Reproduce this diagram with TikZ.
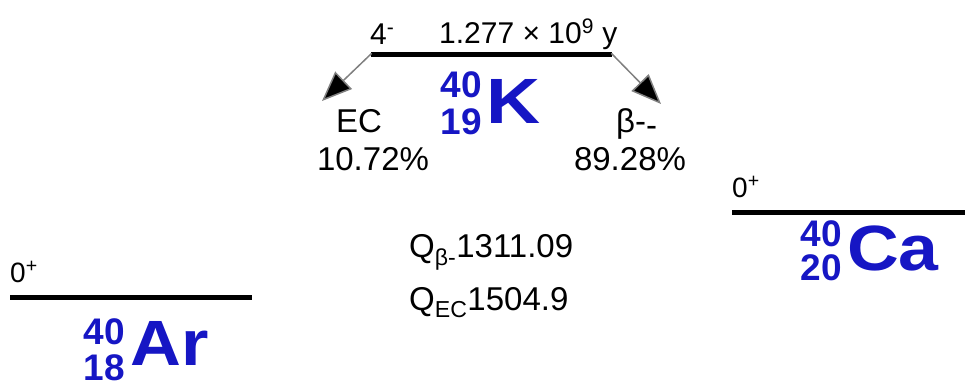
\documentclass[tikz,border=0pt]{standalone}
\usepackage{fontspec}
\setmainfont{Liberation Sans}
\usetikzlibrary{arrows.meta}
\definecolor{nucblue}{RGB}{22,22,196}
\begin{document}
\begin{tikzpicture}[x=1pt,y=-1pt,
  level/.style={line width=5pt,black},
  txt/.style={inner sep=0pt,font=\fontsize{30}{34}\selectfont},
  lbl/.style={inner sep=0pt,font=\fontsize{33}{37}\selectfont},
  spin/.style={inner sep=0pt,font=\fontsize{28}{32}\selectfont},
  massnum/.style={inner sep=0pt,text=nucblue,font=\fontsize{37}{40}\selectfont\bfseries},
  elem/.style={inner sep=0pt,text=nucblue,font=\fontsize{64}{70}\selectfont\bfseries},
  decay/.style={draw=gray,line width=1.5pt,shorten <=-1pt,-{Triangle[length=30pt,width=24pt,fill=black]}}]
\useasboundingbox (0,0) rectangle (965,381);
% levels
\coordinate (kL) at (371,54); \coordinate (kR) at (612,54);
\draw[level] (kL) -- (kR);
\coordinate (arL) at (10,297); \coordinate (arR) at (252,297);
\draw[level] (arL) -- (arR);
\coordinate (caL) at (732,212); \coordinate (caR) at (965,212);
\draw[level] (caL) -- (caR);
% K labels
\node[txt,anchor=base west] (kspin) at (370,44) {4\textsuperscript{-}};
\node[txt,anchor=base west] (khalf) at (439,43) {1.277 × 10\textsuperscript{9} y};
\node[massnum,anchor=base east] (kA) at (482,97) {40};
\node[massnum,anchor=base east] (kZ) at (482,134) {19};
\node[elem,anchor=base west] (kS) at (486,123) {\scalebox{1.17}[1]{K}};
% arrows
\coordinate (ecTip) at (322,101);
\coordinate (bTip) at (661,104);
\draw[decay] (kL) -- (ecTip);
\draw[decay] (kR) -- (bTip);
\node[lbl,anchor=base] (ec) at (359,132) {EC};
\node[lbl,anchor=base] (ecp) at (373,170) {10.72\%};
\node[lbl,anchor=base west] (bm) at (616,132) {β-\raisebox{-4pt}{-}};
\node[lbl,anchor=base] (bmp) at (630,170) {89.28\%};
% Q values
\node[lbl,anchor=base west] (qb) at (409,257) {Q\textsubscript{β-}1311.09};
\node[lbl,anchor=base west] (qec) at (409,310) {Q\textsubscript{EC}1504.9};
% Ar
\node[spin,anchor=base west] (arspin) at (10,282) {0\textsuperscript{+}};
\node[massnum,anchor=base east] (arA) at (125,344) {40};
\node[massnum,anchor=base east] (arZ) at (125,380) {18};
\node[elem,anchor=base west] (arS) at (130,365) {\scalebox{1.1}[1]{Ar}};
% Ca
\node[spin,anchor=base west] (caspin) at (732,197) {0\textsuperscript{+}};
\node[massnum,anchor=base east] (caA) at (842,246) {40};
\node[massnum,anchor=base east] (caZ) at (842,280) {20};
\node[elem,anchor=base west] (caS) at (847,270) {\scalebox{1.12}[1]{Ca}};
\end{tikzpicture}
\end{document}
